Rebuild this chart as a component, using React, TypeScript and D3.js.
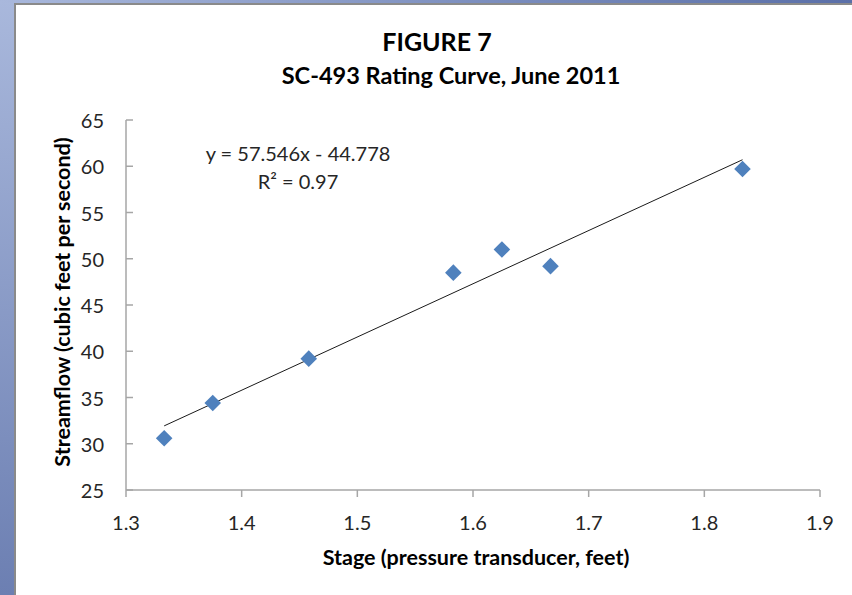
import React from "react";
import * as d3 from "d3";

// Rating curve measurements: stage (ft) vs. streamflow (cfs)
const stageFeet = [1.333, 1.375, 1.458, 1.583, 1.625, 1.667, 1.833];
const streamflowCfs = [30.6, 34.4, 39.2, 48.5, 51.0, 49.2, 59.7];

// Linear trendline coefficients and fit statistic
const slope = 57.546;
const intercept = -44.778;
const rSquared = 0.97;

const xTicks = [1.3, 1.4, 1.5, 1.6, 1.7, 1.8, 1.9];
const yTicks = [25, 30, 35, 40, 45, 50, 55, 60, 65];

const titleLines = ["FIGURE 7", "SC-493 Rating Curve, June 2011"];
const xAxisTitle = "Stage (pressure transducer, feet)";
const yAxisTitle = "Streamflow (cubic feet per second)";

const W = 852;
const H = 595;
const FONT = "Lato, 'Open Sans', sans-serif";

export default function App() {
  const plot = { left: 126, right: 820, top: 120, bottom: 490 };
  const x = d3.scaleLinear().domain([1.3, 1.9]).range([plot.left, plot.right]);
  const y = d3.scaleLinear().domain([25, 65]).range([plot.bottom, plot.top]);

  const xMin = d3.min(stageFeet) as number;
  const xMax = d3.max(stageFeet) as number;
  const trend = d3.line<number>()
    .x((v) => x(v))
    .y((v) => y(slope * v + intercept));

  const diamond = d3.symbol().type(d3.symbolDiamond2).size(175)();

  const axisColor = "#a6a6a6";
  const textColor = "#262626";

  return (
    <div style={{ position: "fixed", left: 0, top: 0, width: W, height: H }}>
      <svg width={W} height={H} style={{ display: "block" }}>
        <defs>
          <linearGradient id="frameLeft" x1="0" y1="0" x2="0" y2="1">
            <stop offset="0" stopColor="#a9b8dc" />
            <stop offset="1" stopColor="#6c7fb2" />
          </linearGradient>
          <linearGradient id="frameTop" x1="0" y1="0" x2="1" y2="0">
            <stop offset="0" stopColor="#a9b8dc" />
            <stop offset="1" stopColor="#5a6fa8" />
          </linearGradient>
        </defs>

        {/* window frame */}
        <rect x={0} y={0} width={W} height={H} fill="#ffffff" />
        <rect x={0} y={0} width={14} height={H} fill="url(#frameLeft)" />
        <rect x={0} y={0} width={W} height={3} fill="url(#frameTop)" />
        <rect x={14} y={3} width={2} height={H - 3} fill="#8a8a8a" />
        <rect x={14} y={3} width={W - 14} height={2} fill="#8a8a8a" />

        {/* title */}
        <text x={437} y={41} textAnchor="middle" dominantBaseline="central"
          fontFamily={FONT} fontWeight={700} fontSize={25} fill="#000">{titleLines[0]}</text>
        <text x={451} y={75} textAnchor="middle" dominantBaseline="central"
          fontFamily={FONT} fontWeight={700} fontSize={23.5} fill="#000">{titleLines[1]}</text>

        {/* y axis */}
        <line x1={plot.left} x2={plot.left} y1={plot.top} y2={plot.bottom} stroke={axisColor} strokeWidth={1.5} />
        {yTicks.map((t) => (
          <g key={`y${t}`}>
            <line x1={plot.left} x2={plot.left + 7} y1={y(t)} y2={y(t)} stroke={axisColor} strokeWidth={1.5} />
            <text x={104} y={y(t)} textAnchor="end" dominantBaseline="central"
              fontFamily={FONT} fontSize={20} fill={textColor}>{t}</text>
          </g>
        ))}

        {/* x axis */}
        <line x1={plot.left} x2={plot.right} y1={plot.bottom} y2={plot.bottom} stroke={axisColor} strokeWidth={1.5} />
        {xTicks.map((t) => (
          <g key={`x${t}`}>
            <line x1={x(t)} x2={x(t)} y1={plot.bottom} y2={plot.bottom + 7} stroke={axisColor} strokeWidth={1.5} />
            <text x={x(t)} y={522} textAnchor="middle" dominantBaseline="central"
              fontFamily={FONT} fontSize={20} fill={textColor}>{t.toFixed(1)}</text>
          </g>
        ))}

        {/* axis titles */}
        <text x={476} y={557} textAnchor="middle" dominantBaseline="central"
          fontFamily={FONT} fontWeight={700} fontSize={21.5} fill="#000">{xAxisTitle}</text>
        <text transform="translate(62,302) rotate(-90)" textAnchor="middle"
          dominantBaseline="central" fontFamily={FONT} fontWeight={700} fontSize={21.5} fill="#000">{yAxisTitle}</text>

        {/* trendline */}
        <path d={trend([xMin, xMax]) ?? ""} fill="none" stroke="#1a1a1a" strokeWidth={1} />

        {/* observations */}
        {stageFeet.map((s, i) => (
          <path key={i} d={diamond ?? ""} transform={`translate(${x(s)},${y(streamflowCfs[i])})`} fill="#4f81bd" />
        ))}

        {/* trendline equation */}
        <text x={298} y={153} textAnchor="middle" dominantBaseline="central"
          fontFamily={FONT} fontSize={20} fill={textColor}>
          {`y = ${slope}x - ${Math.abs(intercept)}`}
        </text>
        <text x={298} y={181} textAnchor="middle" dominantBaseline="central"
          fontFamily={FONT} fontSize={20} fill={textColor}>
          {`R² = ${rSquared}`}
        </text>
      </svg>
    </div>
  );
}
